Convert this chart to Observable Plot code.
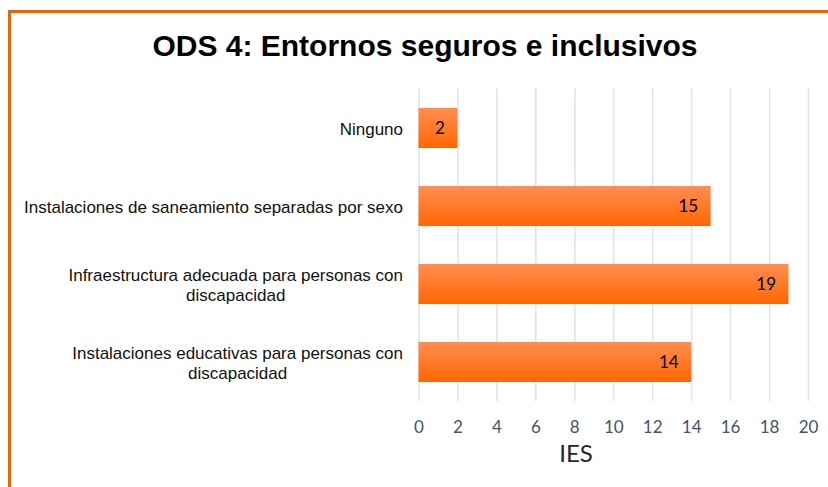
<!DOCTYPE html>
<html>
<head>
<meta charset="utf-8">
<script src="https://cdn.jsdelivr.net/npm/d3@7"></script>
<script src="https://cdn.jsdelivr.net/npm/@observablehq/plot@0.6"></script>
<style>
  html, body { margin: 0; padding: 0; background: #fff; }
  body { width: 828px; height: 487px; overflow: hidden; position: relative; font-family: "Liberation Sans", Arial, sans-serif; }
  #frame { position: absolute; left: 8px; top: 10px; width: 900px; height: 600px; border-top: 3px solid #e8650f; border-left: 3px solid #e8650f; box-sizing: border-box; }
  #title { position: absolute; left: 0; top: 31px; width: 850px; text-align: center; font: bold 30px/30px "Liberation Sans", Arial, sans-serif; color: #000; }
  #chart { position: absolute; left: 0; top: 80px; }
</style>
</head>
<body>
<div id="frame"></div>
<div id="title">ODS 4: Entornos seguros e inclusivos</div>
<div id="chart"></div>
<script>
const categories = [
  "Ninguno",
  "Instalaciones de saneamiento separadas por sexo",
  "Infraestructura adecuada para personas con\ndiscapacidad",
  "Instalaciones educativas para personas con\ndiscapacidad"
];
const values = [2, 15, 19, 14];
const xTicks = [0, 2, 4, 6, 8, 10, 12, 14, 16, 18, 20];
const xLabel = "IES";

const data = categories.map((c, i) => ({cat: c, v: values[i]}));

const chart = Plot.plot({
  width: 828,
  height: 407,
  marginLeft: 418.5,
  marginRight: 20,
  marginTop: 8,
  marginBottom: 86,
  style: {fontFamily: "Liberation Sans, Arial, sans-serif", overflow: "visible", background: "transparent"},
  x: {domain: [0, 20], ticks: xTicks},
  y: {domain: categories, paddingInner: 0.49, paddingOuter: 0.245},
  marks: [
    Plot.ruleX(xTicks, {stroke: "#dde3ea", strokeWidth: 1.5}),
    Plot.barX(data, {x: "v", y: "cat", fill: "url(#barGrad)"}),
    Plot.text(data, {x: "v", y: "cat", text: d => String(d.v), textAnchor: "end", dx: -13, fontSize: 17, fontFamily: "Lato", fill: "#000"}),
    Plot.axisX({ticks: xTicks, tickSize: 0, tickPadding: 19, fontSize: 17, fontFamily: "Lato", fill: "#44546a", label: null}),
    Plot.axisY({tickSize: 0, tickPadding: 16, fontSize: 17, lineHeight: 1.18, fill: "#111", label: null}),
    Plot.text([xLabel], {frameAnchor: "bottom", lineAnchor: "middle", dy: 53, dx: -37.7, fontSize: 24, fontFamily: "Lato", fill: "#262626"})
  ]
});

const defs = d3.select(chart).insert("defs", ":first-child");
const grad = defs.append("linearGradient").attr("id", "barGrad")
  .attr("x1", 0).attr("y1", 0).attr("x2", 0).attr("y2", 1);
grad.append("stop").attr("offset", "0%").attr("stop-color", "#ff8e52");
grad.append("stop").attr("offset", "100%").attr("stop-color", "#ff6700");

document.getElementById("chart").appendChild(chart);

// center multi-line category labels within their own block (as in the reference)
d3.select(chart).selectAll("g[aria-label='y-axis tick label'] text").each(function() {
  const tspans = this.querySelectorAll("tspan");
  if (tspans.length < 2) return;
  let w = 0;
  tspans.forEach(t => { w = Math.max(w, t.getComputedTextLength()); });
  this.setAttribute("text-anchor", "middle");
  tspans.forEach(t => t.setAttribute("x", -w / 2));
});
</script>
</body>
</html>
